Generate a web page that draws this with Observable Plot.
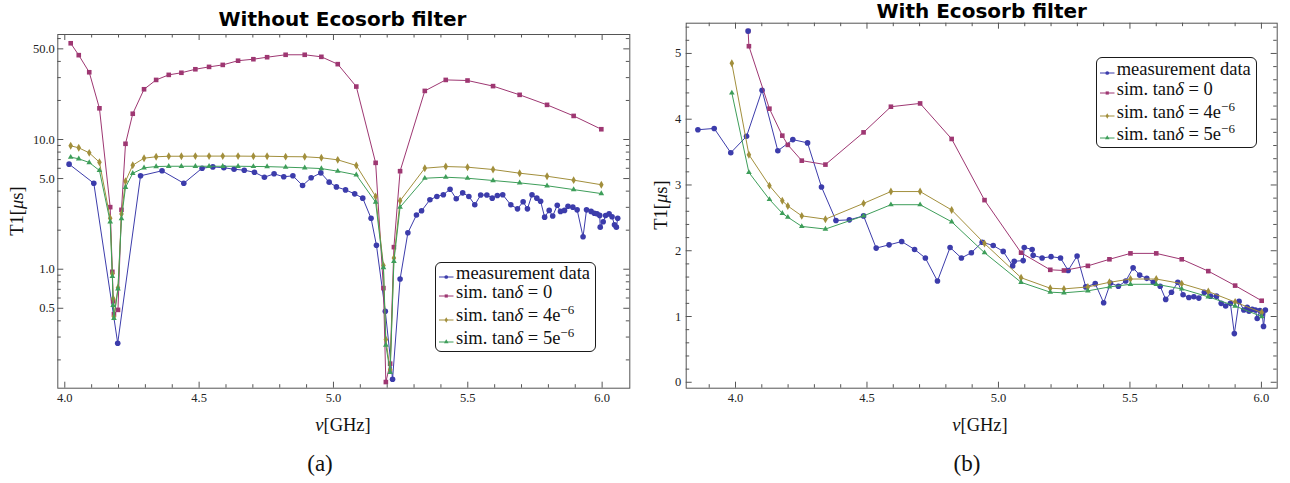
<!DOCTYPE html>
<html>
<head>
<meta charset="utf-8">
<script src="https://cdn.jsdelivr.net/npm/d3@7"></script>
<script src="https://cdn.jsdelivr.net/npm/@observablehq/plot@0.6"></script>
<style>
  body { margin: 0; background: #fff; }
  #wrap { position: relative; width: 1290px; height: 483px; overflow: hidden; font-family: "Liberation Serif", serif; color: #111; }
  .abs { position: absolute; white-space: nowrap; }
  .title { font-family: "DejaVu Sans", sans-serif; font-weight: bold; font-size: 20px; line-height: 20px; text-align: center; color: #000; }
  .lab { font-size: 18.5px; line-height: 18.5px; }
  .cap { font-size: 23px; line-height: 23px; }
  .legend { position: absolute; box-sizing: border-box; border: 1px solid #1a1a1a; border-radius: 6px; background: #fff; font-size: 18.5px; }
  .legend .row { position: absolute; left: 0; height: 20px; line-height: 20px; width: 100%; }
  .legend .row span { position: absolute; left: 20px; top: 0; white-space: nowrap; }
  .legend sup { font-size: 13px; line-height: 0; vertical-align: 7px; }
</style>
</head>
<body>
<div id="wrap">
  <div id="plotA" class="abs" style="left:0;top:0"></div>
  <div id="plotB" class="abs" style="left:645px;top:0"></div>
</div>
<script>
// ---------------- data: panel (a) Without Ecosorb filter ----------------
const leftSimFreq = [4.022, 4.052, 4.091, 4.129, 4.169, 4.177, 4.180, 4.183, 4.198, 4.211, 4.226, 4.253, 4.295, 4.340, 4.387, 4.434, 4.486, 4.537, 4.588, 4.645, 4.702, 4.753, 4.822, 4.893, 4.955, 5.016, 5.085, 5.157, 5.186, 5.195, 5.211, 5.225, 5.248, 5.340, 5.418, 5.499, 5.594, 5.693, 5.795, 5.894, 5.997];
const leftSim0 = [55.2, 44.7, 33.0, 17.4, 3.01, 0.955, 0.566, 0.45, 0.486, 2.87, 9.27, 15.8, 24.4, 28.8, 31.5, 32.7, 34.8, 36.3, 37.6, 40.5, 41.6, 43.1, 45.0, 45.0, 43.4, 38.1, 25.6, 6.61, 0.715, 0.135, 0.187, 1.48, 5.70, 23.7, 28.8, 28.5, 25.8, 22.1, 18.5, 15.2, 12.0];
const leftSim4 = [8.94, 8.63, 7.89, 6.68, 2.47, 0.923, 0.594, 0.432, 0.719, 2.67, 4.77, 6.34, 7.18, 7.36, 7.43, 7.43, 7.45, 7.45, 7.45, 7.45, 7.43, 7.43, 7.38, 7.36, 7.23, 6.97, 6.31, 3.64, 1.07, 0.287, 0.168, 1.22, 3.37, 6.01, 6.19, 6.12, 5.87, 5.50, 5.21, 4.86, 4.48];
const leftSim5 = [7.31, 7.10, 6.65, 5.77, 2.32, 0.879, 0.527, 0.418, 0.706, 2.46, 4.28, 5.49, 6.05, 6.19, 6.22, 6.22, 6.22, 6.22, 6.22, 6.22, 6.20, 6.18, 6.12, 6.05, 5.97, 5.70, 5.34, 3.29, 1.03, 0.26, 0.16, 1.15, 3.01, 5.03, 5.12, 5.03, 4.83, 4.63, 4.40, 4.11, 3.83];
const leftMeasFreq = [4.016, 4.108, 4.197, 4.282, 4.362, 4.443, 4.511, 4.551, 4.592, 4.630,
  4.668, 4.706, 4.743, 4.779, 4.815, 4.849, 4.885, 4.917, 4.953, 4.984,
  5.011, 5.045, 5.079, 5.109, 5.140, 5.160, 5.193, 5.220, 5.248, 5.277,
  5.309, 5.328, 5.359, 5.385, 5.409, 5.434, 5.457, 5.481, 5.504, 5.526,
  5.548, 5.571, 5.591, 5.610, 5.630, 5.660, 5.685, 5.706, 5.722, 5.739,
  5.757, 5.771, 5.786, 5.803, 5.816, 5.833, 5.845, 5.860, 5.873, 5.891,
  5.907, 5.929, 5.942, 5.959, 5.971, 5.981, 5.991, 5.993, 6.004, 6.013,
  6.026, 6.037, 6.046, 6.053, 6.058];
const leftMeasT1 = [6.46, 4.60, 0.269, 5.25, 5.74, 4.60, 6.01, 6.15, 6.06, 5.90,
  5.80, 5.59, 5.12, 5.44, 5.16, 5.25, 4.42, 5.07, 5.53, 4.69,
  4.31, 4.09, 3.81, 3.53, 2.47, 1.53, 0.474, 0.142, 0.84, 1.91,
  2.62, 2.82, 3.43, 3.64, 3.75, 4.14, 3.49, 3.88, 3.64, 3.14,
  3.73, 3.73, 3.53, 3.70, 3.75, 3.14, 2.92, 3.31, 2.92, 3.75,
  3.53, 3.34, 2.52, 2.84, 2.57, 3.11, 2.79, 2.84, 3.06, 3.01,
  2.87, 1.78, 2.87, 2.79, 2.70, 2.68, 2.60, 2.11, 2.32, 2.59,
  2.67, 2.54, 2.20, 2.11, 2.47];

// ---------------- data: panel (b) With Ecosorb filter ----------------
const rightSimFreq = [3.986, 4.051, 4.129, 4.178, 4.199, 4.252, 4.342, 4.487, 4.591, 4.702, 4.822, 4.947, 5.086, 5.197, 5.249, 5.340, 5.422, 5.502, 5.600, 5.697, 5.798, 5.900, 6.001];
const rightSim0Freq = [4.048, 4.051, 4.129, 4.178, 4.199, 4.252, 4.342, 4.487, 4.591, 4.702, 4.822, 4.947, 5.086, 5.197, 5.249, 5.340, 5.422, 5.502, 5.600, 5.697, 5.798, 5.900, 6.001];
const rightSim0 = [5.34, 5.11, 4.16, 3.75, 3.61, 3.37, 3.31, 3.80, 4.19, 4.24, 3.70, 2.77, 1.97, 1.71, 1.70, 1.77, 1.87, 1.96, 1.96, 1.87, 1.69, 1.47, 1.24];
const rightSim4 = [4.85, 3.46, 2.99, 2.76, 2.68, 2.53, 2.48, 2.72, 2.90, 2.90, 2.62, 2.11, 1.59, 1.43, 1.42, 1.45, 1.52, 1.57, 1.57, 1.50, 1.38, 1.22, 1.06];
const rightSim5 = [4.40, 3.19, 2.78, 2.57, 2.51, 2.37, 2.33, 2.53, 2.70, 2.70, 2.44, 1.97, 1.52, 1.37, 1.36, 1.39, 1.45, 1.49, 1.49, 1.42, 1.30, 1.16, 1.00];
const rightMeasFreq = [3.857, 3.919, 3.982, 4.042, 4.101, 4.161, 4.218, 4.274, 4.327, 4.382,
  4.433, 4.487, 4.535, 4.584, 4.632, 4.681, 4.722, 4.768, 4.816, 4.859,
  4.897, 4.938, 4.980, 5.018, 5.054, 5.060, 5.094, 5.098, 5.128, 5.132,
  5.166, 5.200, 5.236, 5.265, 5.299, 5.332, 5.368, 5.400, 5.426, 5.456,
  5.484, 5.512, 5.537, 5.564, 5.589, 5.615, 5.636, 5.658, 5.682, 5.702,
  5.724, 5.743, 5.762, 5.783, 5.806, 5.829, 5.847, 5.864, 5.882, 5.897,
  5.915, 5.933, 5.946, 5.953, 5.965, 5.977, 5.984, 5.994, 6.003, 6.008, 6.015];
const rightMeasT1 = [3.84, 3.86, 3.49, 3.74, 4.44, 3.52, 3.69, 3.64, 2.97, 2.46,
  2.47, 2.53, 2.04, 2.09, 2.14, 2.02, 1.89, 1.54, 2.05, 1.89,
  1.97, 2.13, 2.08, 1.99, 1.77, 1.84, 1.85, 2.05, 2.02, 1.93,
  1.89, 1.91, 1.89, 1.70, 1.92, 1.45, 1.50, 1.21, 1.51, 1.46,
  1.54, 1.74, 1.63, 1.58, 1.52, 1.46, 1.26, 1.37, 1.52, 1.33,
  1.29, 1.30, 1.28, 1.37, 1.31, 1.31, 1.20, 1.16, 1.20, 0.74,
  1.23, 1.10, 1.14, 1.08, 1.11, 1.10, 0.97, 1.09, 1.04, 0.85, 1.10];
const rightMeasExtraFreq = [4.048];
const rightMeasExtraT1 = [5.34];

// ---------------- ticks & labels ----------------
const leftXMajor = [4, 4.5, 5, 5.5, 6];
const leftXMinor = [4.1, 4.2, 4.3, 4.4, 4.6, 4.7, 4.8, 4.9, 5.1, 5.2, 5.3, 5.4, 5.6, 5.7, 5.8, 5.9];
const leftYMajor = [0.5, 1, 5, 10, 50];
const leftYMinor = [0.2, 0.3, 0.4, 0.6, 0.7, 0.8, 0.9, 2, 3, 4, 6, 7, 8, 9, 20, 30, 40, 60];
const rightXMajor = [4, 4.5, 5, 5.5, 6];
const rightXMinor = [3.9, 4.1, 4.2, 4.3, 4.4, 4.6, 4.7, 4.8, 4.9, 5.1, 5.2, 5.3, 5.4, 5.6, 5.7, 5.8, 5.9];
const rightYMajor = [0, 1, 2, 3, 4, 5];
const rightYMinor = [0.2, 0.4, 0.6, 0.8, 1.2, 1.4, 1.6, 1.8, 2.2, 2.4, 2.6, 2.8, 3.2, 3.4, 3.6, 3.8, 4.2, 4.4, 4.6, 4.8, 5.2, 5.4];
const titles = ["Without Ecosorb filter", "With Ecosorb filter"];
const captions = ["(a)", "(b)"];
const legendLabels = ["measurement data", "sim. tan<i>δ</i> = 0", "sim. tan<i>δ</i> = 4e<sup>−6</sup>", "sim. tan<i>δ</i> = 5e<sup>−6</sup>"];

// ---------------- styling ----------------
const colors = ["#3c3cab", "#9e3772", "#a28f3c", "#3e9e5a"];
const symbols = ["circle", "square", "diamond", "triangle"];
const radii = [2.8, 2.6, 2.4, 2.1];
const frameColor = "#555";

const toRows = (xs, ys) => xs.map((x, i) => ({x, y: ys[i]}));

function seriesMarks(rows, k) {
  return [
    Plot.line(rows, {x: "x", y: "y", stroke: colors[k], strokeWidth: 1}),
    Plot.dot(rows, {x: "x", y: "y", symbol: symbols[k], fill: colors[k], stroke: "none", r: radii[k]})
  ];
}

// inward ticks on all four sides (drawn through the x/y scales), labels on left and bottom
function axesMarks(fw, fh, xMajor, xMinor, yMajor, yMinor, fmtX, fmtY, yPad) {
  const s = {stroke: frameColor, strokeWidth: 1};
  const tx = (data, len, side) => Plot.tickX(data, {...s, x: d => d, [side === "bottom" ? "insetTop" : "insetBottom"]: fh - len});
  const ty = (data, len, side) => Plot.tickY(data, {...s, y: d => d, [side === "left" ? "insetRight" : "insetLeft"]: fw - len});
  const txt = {fontSize: 12.5, fill: "#222"};
  return [
    tx(xMajor, 6, "bottom"), tx(xMinor, 3.5, "bottom"), tx(xMajor, 6, "top"), tx(xMinor, 3.5, "top"),
    ty(yMajor, 6, "left"), ty(yMinor, 3.5, "left"), ty(yMajor, 6, "right"), ty(yMinor, 3.5, "right"),
    Plot.text(xMajor, {...txt, x: d => d, text: d => fmtX(d), frameAnchor: "bottom", lineAnchor: "top", dy: 5}),
    Plot.text(yMajor, {...txt, y: d => d, text: d => fmtY(d), frameAnchor: "left", textAnchor: "end", dx: -yPad}),
    Plot.frame({stroke: frameColor, strokeWidth: 1})
  ];
}

const plotStyle = {fontFamily: "'Liberation Serif', serif", fontSize: "12.5px", color: "#222", background: "transparent"};

const A = {w: 645, h: 483, ml: 57.3, mr: 15.7, mt: 34, mb: 95.3};
const plotA = Plot.plot({
  width: A.w, height: A.h,
  marginLeft: A.ml, marginRight: A.mr, marginTop: A.mt, marginBottom: A.mb,
  x: {domain: [3.974, 6.103], axis: null},
  y: {type: "log", domain: [0.121, 64.5], axis: null},
  style: plotStyle,
  marks: [
    ...seriesMarks(toRows(leftMeasFreq, leftMeasT1), 0),
    ...seriesMarks(toRows(leftSimFreq, leftSim0), 1),
    ...seriesMarks(toRows(leftSimFreq, leftSim4), 2),
    ...seriesMarks(toRows(leftSimFreq, leftSim5), 3),
    ...axesMarks(A.w - A.ml - A.mr, A.h - A.mt - A.mb, leftXMajor, leftXMinor, leftYMajor, leftYMinor, d3.format(".1f"), d3.format(".1f"), 3)
  ]
});
document.getElementById("plotA").appendChild(plotA);

const B = {w: 645, h: 483, ml: 40.7, mr: 13.3, mt: 22.7, mb: 95.3};
const plotB = Plot.plot({
  width: B.w, height: B.h,
  marginLeft: B.ml, marginRight: B.mr, marginTop: B.mt, marginBottom: B.mb,
  x: {domain: [3.8125, 6.06], axis: null},
  y: {domain: [-0.09, 5.46], axis: null},
  style: plotStyle,
  marks: [
    ...seriesMarks(toRows(rightMeasFreq, rightMeasT1), 0),
    ...seriesMarks(toRows(rightSim0Freq, rightSim0), 1),
    ...seriesMarks(toRows(rightSimFreq, rightSim4), 2),
    ...seriesMarks(toRows(rightSimFreq, rightSim5), 3),
    Plot.dot(toRows(rightMeasExtraFreq, rightMeasExtraT1), {x: "x", y: "y", symbol: "circle", fill: colors[0], r: radii[0]}),
    ...axesMarks(B.w - B.ml - B.mr, B.h - B.mt - B.mb, rightXMajor, rightXMinor, rightYMajor, rightYMinor, d3.format(".1f"), d3.format("d"), 5)
  ]
});
document.getElementById("plotB").appendChild(plotB);

// ---------------- text overlays ----------------
const wrap = document.getElementById("wrap");
function addDiv(cls, html, css) {
  const d = document.createElement("div");
  d.className = "abs " + cls;
  d.innerHTML = html;
  d.style.cssText += css;
  wrap.appendChild(d);
  return d;
}
addDiv("title", titles[0], "left:42.5px;width:600px;top:9px;");
addDiv("title", titles[1], "left:681.7px;width:600px;top:1.4px;");
addDiv("lab", "<i>ν</i>[GHz]", "left:243px;width:200px;text-align:center;top:415.5px;");
addDiv("lab", "<i>ν</i>[GHz]", "left:880px;width:200px;text-align:center;top:415.5px;");
addDiv("lab", "T1[<i>μ</i>s]", "left:17px;top:211px;transform:translate(-50%,-50%) rotate(-90deg);");
addDiv("lab", "T1[<i>μ</i>s]", "left:661px;top:205px;transform:translate(-50%,-50%) rotate(-90deg);");
addDiv("cap", captions[0], "left:220px;width:200px;text-align:center;top:451.7px;");
addDiv("cap", captions[1], "left:867px;width:200px;text-align:center;top:451.7px;");

// legends
const d3Symbols = {circle: d3.symbolCircle, square: d3.symbolSquare, diamond: d3.symbolDiamond, triangle: d3.symbolTriangle};
const symSizes = [11, 10, 9, 9];
function addLegend(left, top, width, height, rowTops) {
  const box = document.createElement("div");
  box.className = "legend";
  box.style.cssText = `left:${left}px;top:${top}px;width:${width}px;height:${height}px;`;
  legendLabels.forEach((lab, k) => {
    const row = document.createElement("div");
    row.className = "row";
    row.style.top = rowTops[k] + "px";
    const path = d3.symbol(d3Symbols[symbols[k]], symSizes[k])();
    row.innerHTML = `<svg width="16" height="8" style="position:absolute;left:3px;top:10.2px;overflow:visible">
        <line x1="0" x2="14.5" y1="4" y2="4" stroke="${colors[k]}" stroke-width="1"/>
        <path transform="translate(7.25,4)" d="${path}" fill="${colors[k]}"/></svg><span>${lab}</span>`;
    box.appendChild(row);
  });
  wrap.appendChild(box);
}
addLegend(435, 261.7, 161, 90.6, [0.4, 19.4, 42.8, 65.4]);
addLegend(1095.7, 57.3, 161.6, 91, [0.4, 20.3, 43.3, 65.8]);
</script>
</body>
</html>
